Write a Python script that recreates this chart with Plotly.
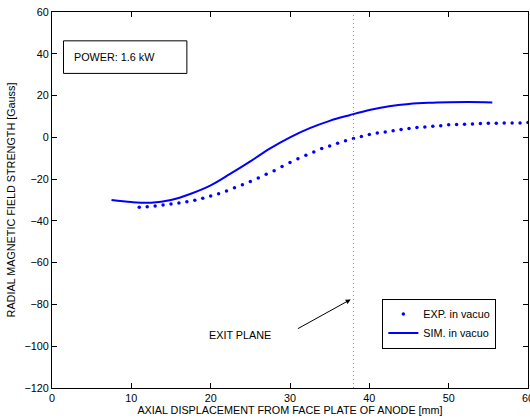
import plotly.graph_objects as go

# Experimental data (dots), mm vs Gauss
exp_x = list(range(11, 61))
exp_y = [-33.5, -33.2, -32.9, -32.4, -31.9, -31.4, -30.8, -30.1, -29.2, -28.1,
         -27.0, -25.7, -24.1, -22.7, -21.1, -19.5, -17.7, -16.0, -14.0, -12.1,
         -10.3, -8.6, -7.0, -5.4, -4.1, -2.8, -1.6, -0.6, 0.4, 1.3,
         2.1, 2.6, 3.2, 3.7, 4.2, 4.7, 5.0, 5.3, 5.6, 6.0,
         6.1, 6.3, 6.4, 6.6, 6.8, 6.8, 6.9, 6.9, 6.9, 7.1]

# Simulation (line)
sim_x = [7.5, 10, 12.5, 15, 17.5, 20, 22.5, 25, 27.5, 30, 32.5, 35, 37.5,
         40, 42.5, 45, 47.5, 50, 52.5, 55.5]
sim_y = [-30.0, -31.0, -31.3, -30.0, -27.0, -23.0, -17.4, -11.5, -5.3, 0.0,
         4.4, 7.9, 10.6, 13.1, 14.9, 16.0, 16.55, 16.8, 16.9, 16.7]

exit_plane = 38
x_ticks = [0, 10, 20, 30, 40, 50, 60]
y_ticks = [-120, -100, -80, -60, -40, -20, 0, 20, 40, 60]

FONT = "Liberation Sans, Arial, Helvetica, sans-serif"
FS = 10.8
BLUE = "#0000ff"

fig = go.Figure()
fig.add_trace(go.Scatter(x=exp_x, y=exp_y, mode="markers", name="EXP. in vacuo",
                         marker=dict(color=BLUE, size=3.5, line=dict(width=0))))
fig.add_trace(go.Scatter(x=sim_x, y=sim_y, mode="lines", name="SIM. in vacuo",
                         line=dict(color=BLUE, width=2, shape="spline")))

# exit plane line
fig.add_shape(type="line", xref="x", yref="paper", x0=exit_plane, x1=exit_plane,
              y0=0, y1=1, line=dict(color="#8a8a8a", width=1, dash="1px,3px"))

# power box
fig.add_shape(type="rect", xref="x", yref="y", x0=1.45, x1=17.0, y0=30.6, y1=46.2,
              line=dict(color="black", width=1), fillcolor="white")
fig.add_annotation(x=2.5, y=38.4, xref="x", yref="y", text="POWER: 1.6 kW",
                   showarrow=False, xanchor="left", yanchor="middle",
                   font=dict(size=FS, color="black", family=FONT))

# exit plane annotation
fig.add_annotation(x=37.65, y=-77.6, ax=30.8, ay=-92.0, xref="x", yref="y",
                   axref="x", ayref="y", text="", showarrow=True,
                   arrowhead=2, arrowsize=1, arrowwidth=1, arrowcolor="black")
fig.add_annotation(x=23.7, y=-94.7, xref="x", yref="y", text="EXIT PLANE",
                   showarrow=False, font=dict(size=FS, color="black", family=FONT))

axis_common = dict(showgrid=False, zeroline=False, showline=True, linecolor="black",
                   linewidth=1, mirror="ticks", ticks="inside", ticklen=5,
                   tickcolor="black", ticklabeloverflow="allow", automargin=False,
                   tickfont=dict(size=FS, color="black", family=FONT))

fig.update_layout(
    width=530, height=419,
    margin=dict(l=52, r=2, t=12, b=31),
    paper_bgcolor="white", plot_bgcolor="white",
    font=dict(family=FONT, size=FS, color="black"),
    xaxis=dict(range=[0, 60], tickvals=x_ticks,
               title=dict(text="AXIAL DISPLACEMENT FROM FACE PLATE OF ANODE [mm]",
                          font=dict(size=FS), standoff=1),
               **axis_common),
    yaxis=dict(range=[-120, 60], tickvals=y_ticks,
               title=dict(text="RADIAL MAGNETIC FIELD STRENGTH [Gauss]",
                          font=dict(size=FS), standoff=6),
               **axis_common),
    legend=dict(x=0.694, y=0.238, xanchor="left", yanchor="top",
                bordercolor="black", borderwidth=1, bgcolor="white",
                font=dict(size=FS, family=FONT), itemwidth=30,
                tracegroupgap=0),
    showlegend=True,
)

fig.write_html("out.html")
